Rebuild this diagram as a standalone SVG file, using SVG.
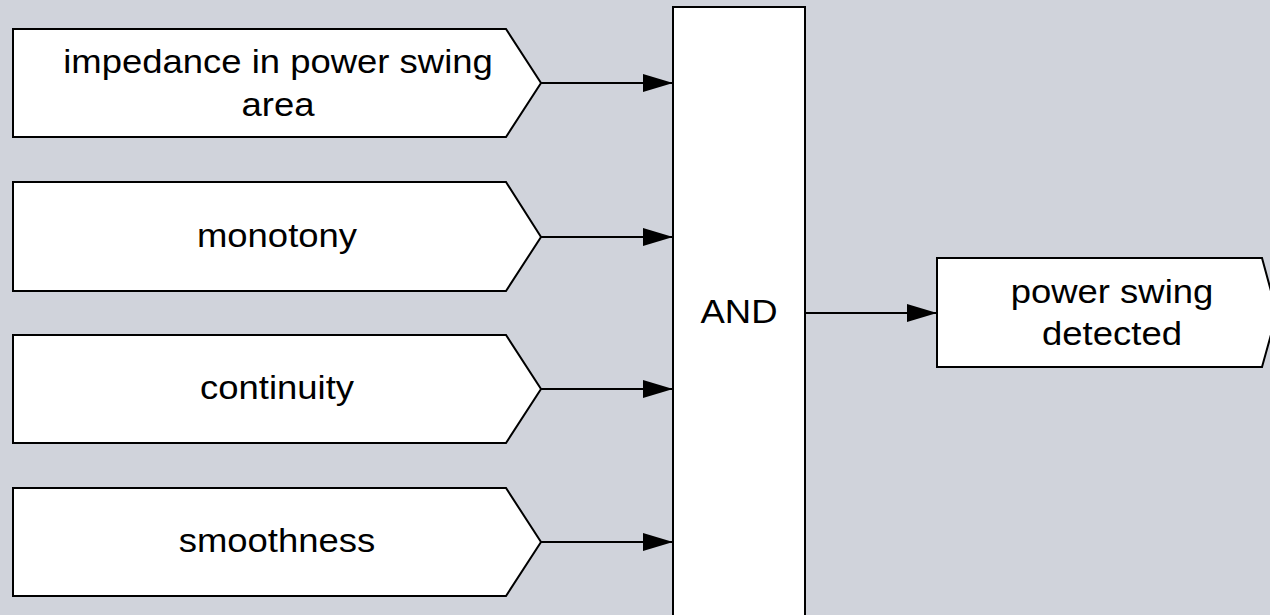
<svg xmlns="http://www.w3.org/2000/svg" width="1270" height="615" viewBox="0 0 1270 615">
  <defs>
    <marker id="arrow" markerWidth="30" markerHeight="18" refX="30" refY="9" orient="auto" markerUnits="userSpaceOnUse">
      <path d="M0,0 L30,9 L0,18 Z" fill="#000"/>
    </marker>
    <style>
      .shape { fill: #fff; stroke: #000; stroke-width: 2; stroke-linejoin: miter; }
      .conn { stroke: #000; stroke-width: 2; fill: none; marker-end: url(#arrow); }
      .label { font-family: "Liberation Sans", Arial, sans-serif; font-size: 33px; fill: #000; text-anchor: middle; }
    </style>
  </defs>
  <rect width="1270" height="615" fill="#d0d3db"/>

  <!-- labels use a slightly widened face: translate to the anchor, then stretch horizontally -->
  <g id="in-impedance">
    <path class="shape" d="M13,29 H506 L541,83 L506,137 H13 Z"/>
    <text class="label" transform="translate(278,73) scale(1.105,1)">impedance in power swing</text>
    <text class="label" transform="translate(278,116) scale(1.105,1)">area</text>
  </g>
  <g id="in-monotony">
    <path class="shape" d="M13,182 H506 L541,237 L506,291 H13 Z"/>
    <text class="label" transform="translate(277,247) scale(1.105,1)">monotony</text>
  </g>
  <g id="in-continuity">
    <path class="shape" d="M13,335 H506 L541,389 L506,443 H13 Z"/>
    <text class="label" transform="translate(277,399) scale(1.105,1)">continuity</text>
  </g>
  <g id="in-smoothness">
    <path class="shape" d="M13,488 H506 L541,542 L506,596 H13 Z"/>
    <text class="label" transform="translate(277,552) scale(1.105,1)">smoothness</text>
  </g>

  <g id="and-gate">
    <rect class="shape" x="673" y="7" width="132" height="620"/>
    <text class="label" transform="translate(739,323) scale(1.105,1)">AND</text>
  </g>

  <g id="out-detected">
    <path class="shape" d="M937,258 H1262 L1277,313 L1262,367 H937 Z"/>
    <text class="label" transform="translate(1112,303) scale(1.105,1)">power swing</text>
    <text class="label" transform="translate(1112,345) scale(1.105,1)">detected</text>
  </g>

  <g id="connectors">
    <line class="conn" x1="541" y1="83" x2="673" y2="83"/>
    <line class="conn" x1="541" y1="237" x2="673" y2="237"/>
    <line class="conn" x1="541" y1="389" x2="673" y2="389"/>
    <line class="conn" x1="541" y1="542" x2="673" y2="542"/>
    <line class="conn" x1="805" y1="313" x2="937" y2="313"/>
  </g>
</svg>
